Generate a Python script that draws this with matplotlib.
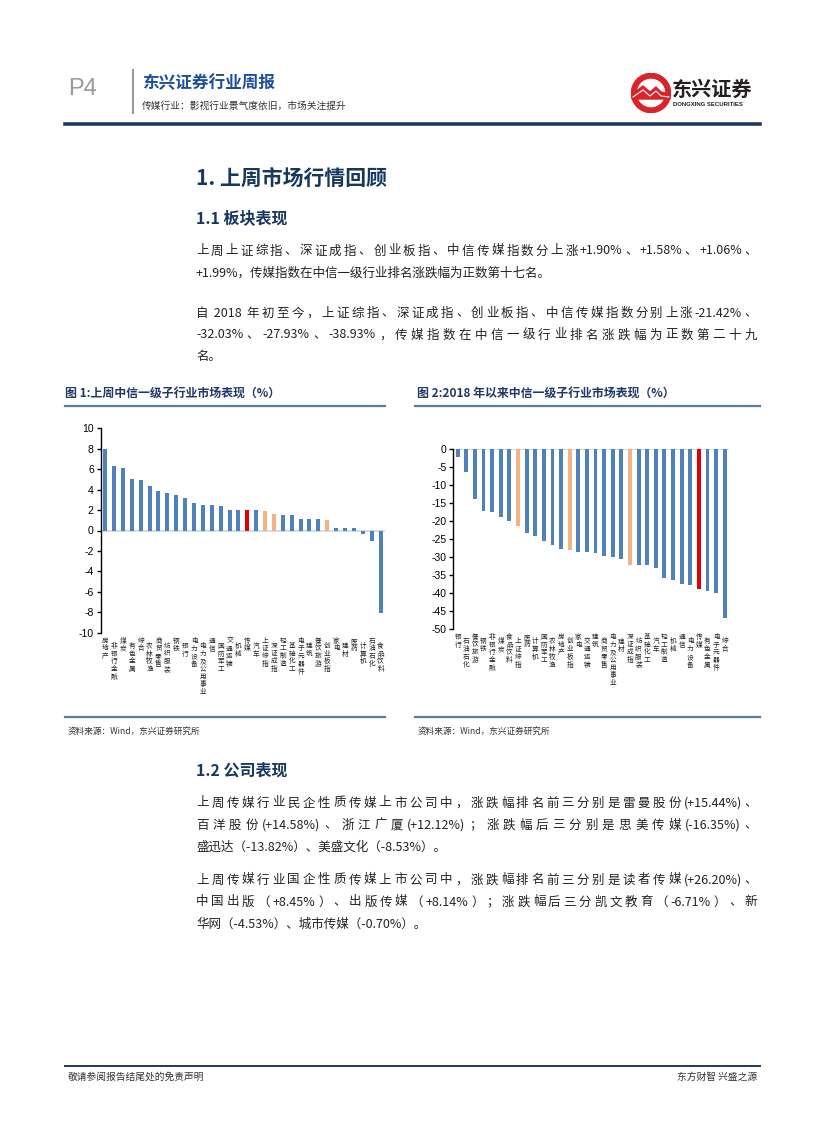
import re
import matplotlib
matplotlib.use('Agg')
import matplotlib.pyplot as plt
from matplotlib.patches import Circle
import numpy as np

plt.rcParams['font.family'] = ['Noto Sans CJK SC', 'DejaVu Sans']
plt.rcParams['axes.unicode_minus'] = False

W, H = 827, 1122  # page size in pixels

# chart 1: last week's performance of CITIC level-1 industries (%)
names1 = ['房地产', '非银行金融', '煤炭', '有色金属', '综合', '农林牧渔', '商贸零售', '纺织服装',
          '钢铁', '银行', '电力设备', '电力及公用事业', '通信', '国防军工', '交通运输', '机械',
          '传媒', '汽车', '上证综指', '深证成指', '轻工制造', '基础化工', '电子元器件', '建筑',
          '餐饮旅游', '创业板指', '家电', '建材', '医药', '计算机', '石油石化', '食品饮料']
vals1 = [7.95, 6.3, 6.1, 5.0, 4.9, 4.36, 3.84, 3.64, 3.44, 3.15, 2.72, 2.52, 2.52, 2.36, 2.0, 2.0,
         1.99, 2.0, 1.90, 1.58, 1.54, 1.54, 1.11, 1.1, 1.1, 1.06, 0.25, 0.25, 0.25, -0.3, -1.0, -8.05]

# chart 2: performance since start of 2018 (%)
names2 = ['银行', '石油石化', '餐饮旅游', '钢铁', '非银行金融', '煤炭', '食品饮料', '上证综指',
          '医药', '计算机', '国防军工', '农林牧渔', '房地产', '创业板指', '家电', '交通运输',
          '建筑', '商贸零售', '电力及公用事业', '建材', '深证成指', '纺织服装', '基础化工', '汽车',
          '轻工制造', '机械', '通信', '电力设备', '传媒', '有色金属', '电子元器件', '综合']
vals2 = [-2.3, -6.3, -13.9, -17.1, -17.4, -18.9, -20.0, -21.42, -23.3, -24.0, -25.6, -26.5,
         -27.6, -27.93, -28.5, -28.5, -28.9, -29.6, -30.0, -30.6, -32.03, -32.3, -32.3, -33.1,
         -35.8, -36.4, -37.5, -37.8, -38.93, -39.3, -40.0, -46.8]

indexes = ['上证综指', '深证成指', '创业板指']
BLUE, ORANGE, RED = '#4f81bd', '#f4b183', '#e30000'
NAVY = '#17375e'


def fx(px):
    return px / W


def fy(py):
    return 1 - py / H


fig = plt.figure(figsize=(W / 100, H / 100), dpi=100)
rend = fig.canvas.get_renderer()

CJK = r'[\u3000-\u303f\u4e00-\u9fff\uff00-\uffef]'


def put_line(x0, y, s, size, width=None, **kw):
    # one line of body text, spread to the given width if asked
    if width is None:
        fig.text(fx(x0), fy(y), s, fontsize=size, va='center', **kw)
        return
    toks = re.findall(CJK + '|(?:(?!' + CJK + ').)+', s)
    objs = [fig.text(0, 0, t, fontsize=size, va='center', **kw) for t in toks]
    ws = [o.get_window_extent(rend).width for o in objs]
    gap = (width - sum(ws)) / (len(toks) - 1)
    x = x0
    for o, w in zip(objs, ws):
        o.set_position((fx(x), fy(y)))
        x += w + gap


# ---- page header
fig.text(fx(68), fy(89), 'P4', fontsize=17, color='#9a9a9a', va='center', family='Liberation Sans')
fig.add_artist(plt.Line2D([fx(133), fx(133)], [fy(70), fy(113)], color='#9a9a9a', lw=1.5))
fig.text(fx(142), fy(83), '东兴证券行业周报', fontsize=12, weight='bold', color='#1f4e99', va='center')
fig.text(fx(142), fy(106), '传媒行业：影视行业景气度依旧，市场关注提升', fontsize=7, color='#333333', va='center')

logo = fig.add_axes([fx(631), fy(113), 40 / W, 40 / H])
logo.set_xlim(-1, 1)
logo.set_ylim(-1, 1)
logo.set_aspect('equal')
logo.axis('off')
logo.add_patch(Circle((0, 0), 0.98, color='#d9242b'))
logo.add_patch(Circle((0, 0), 0.68, color='white'))
logo.fill([-0.95, -0.4, -0.05, 0.25, 0.5, 0.95, 0.95, -0.95], [-0.05, 0.35, 0.05, 0.3, 0.05, -0.05, -0.3, -0.3],
          color='#d9242b')
logo.plot([-0.9, -0.4, -0.05, 0.25, 0.5, 0.9], [-0.2, 0.15, -0.15, 0.1, -0.15, -0.2], color='white', lw=0.8)
fig.text(fx(672), fy(89), '东兴证券', fontsize=14.5, weight='heavy', color='#231f20', va='center')
fig.text(fx(673), fy(105), 'DONGXING SECURITIES', fontsize=4.3, weight='bold', color='#231f20', va='center',
         family='Liberation Sans')
fig.add_artist(plt.Line2D([fx(65), fx(760)], [fy(124), fy(124)], color='#1f3a5f', lw=2.6))

# ---- section 1
fig.text(fx(196), fy(178), '1. 上周市场行情回顾', fontsize=15, weight='bold', color=NAVY, va='center')
fig.text(fx(196), fy(218), '1.1 板块表现', fontsize=11.5, weight='bold', color=NAVY, va='center')

TX, TW, TS, TC = 196, 561, 9, '#222222'
put_line(TX, 251, '上周上证综指、深证成指、创业板指、中信传媒指数分上涨+1.90%、+1.58%、+1.06%、', TS, TW, color=TC)
put_line(TX, 273, '+1.99%，传媒指数在中信一级行业排名涨跌幅为正数第十七名。', TS, color=TC)
put_line(TX, 313, '自 2018 年初至今，上证综指、深证成指、创业板指、中信传媒指数分别上涨-21.42%、', TS, TW, color=TC)
put_line(TX, 335, '-32.03%、-27.93%、-38.93%，传媒指数在中信一级行业排名涨跌幅为正数第二十九', TS, TW, color=TC)
put_line(TX, 357, '名。', TS, color=TC)

# ---- chart titles and rules
fig.text(fx(65), fy(393), '图 1:上周中信一级子行业市场表现（%）', fontsize=8.6, weight='bold', color='#1f3864',
         va='center')
fig.text(fx(417), fy(393), '图 2:2018 年以来中信一级子行业市场表现（%）', fontsize=8.6, weight='bold', color='#1f3864',
         va='center')
for y in (406, 717):
    fig.add_artist(plt.Line2D([fx(65), fx(385)], [fy(y), fy(y)], color='#5b7b9b', lw=1.6))
    fig.add_artist(plt.Line2D([fx(415), fx(760)], [fy(y), fy(y)], color='#5b7b9b', lw=1.6))
fig.text(fx(68), fy(731), '资料来源：Wind，东兴证券研究所', fontsize=6.2, style='italic', color='#333333', va='center')
fig.text(fx(418), fy(731), '资料来源：Wind，东兴证券研究所', fontsize=6.2, style='italic', color='#333333', va='center')


def bar_chart(rect, names, vals, ylim, yticks):
    ax = fig.add_axes(rect)
    x = np.arange(len(names))
    cols = [RED if n == '传媒' else ORANGE if n in indexes else BLUE for n in names]
    ax.bar(x, vals, width=0.45, color=cols, zorder=3)
    ax.axhline(0, color='#c9d7ea', lw=1.2, zorder=2)
    ax.set_xlim(-0.5, len(names) - 0.5)
    ax.set_ylim(*ylim)
    ax.set_yticks(yticks)
    ax.set_xticks([])
    for s in ('top', 'right', 'bottom'):
        ax.spines[s].set_visible(False)
    ax.spines['left'].set_linewidth(1.0)
    ax.tick_params(axis='y', length=3, width=1.0, labelsize=7.5, pad=2)
    for lab in ax.get_yticklabels():
        lab.set_family('Liberation Sans')
    for i, n in enumerate(names):
        ax.text(i, -0.02 - (0.025 if i % 2 else 0), '\n'.join(n), transform=ax.get_xaxis_transform(),
                ha='center', va='top', fontsize=4.8, linespacing=0.95, color='#222222')
    return ax


bar_chart([fx(100.7), fy(632.7), 284.3 / W, 204.4 / H], names1, vals1, (-10, 10), range(-10, 11, 2))
bar_chart([fx(453.4), fy(629.3), 275.6 / W, 180.3 / H], names2, vals2, (-50, 0), range(-50, 1, 5))

# ---- section 1.2
fig.text(fx(196), fy(771), '1.2 公司表现', fontsize=11.5, weight='bold', color=NAVY, va='center')
put_line(TX, 803, '上周传媒行业民企性质传媒上市公司中，涨跌幅排名前三分别是雷曼股份(+15.44%)、', TS, TW, color=TC)
put_line(TX, 825, '百洋股份(+14.58%)、浙江广厦(+12.12%)；涨跌幅后三分别是思美传媒(-16.35%)、', TS, TW, color=TC)
put_line(TX, 847, '盛迅达（-13.82%）、美盛文化（-8.53%）。', TS, color=TC)
put_line(TX, 880, '上周传媒行业国企性质传媒上市公司中，涨跌幅排名前三分别是读者传媒(+26.20%)、', TS, TW, color=TC)
put_line(TX, 902, '中国出版（+8.45%）、出版传媒（+8.14%）；涨跌幅后三分凯文教育（-6.71%）、新', TS, TW, color=TC)
put_line(TX, 924, '华网（-4.53%）、城市传媒（-0.70%）。', TS, color=TC)

# ---- footer
fig.add_artist(plt.Line2D([fx(65), fx(760)], [fy(1066), fy(1066)], color='#1f3a5f', lw=1.4))
fig.text(fx(68), fy(1077), '敬请参阅报告结尾处的免责声明', fontsize=7, color='#333333', va='center')
fig.text(fx(757), fy(1077), '东方财智 兴盛之源', fontsize=7, color='#333333', va='center', ha='right')

fig.savefig('out.png', dpi=100)
